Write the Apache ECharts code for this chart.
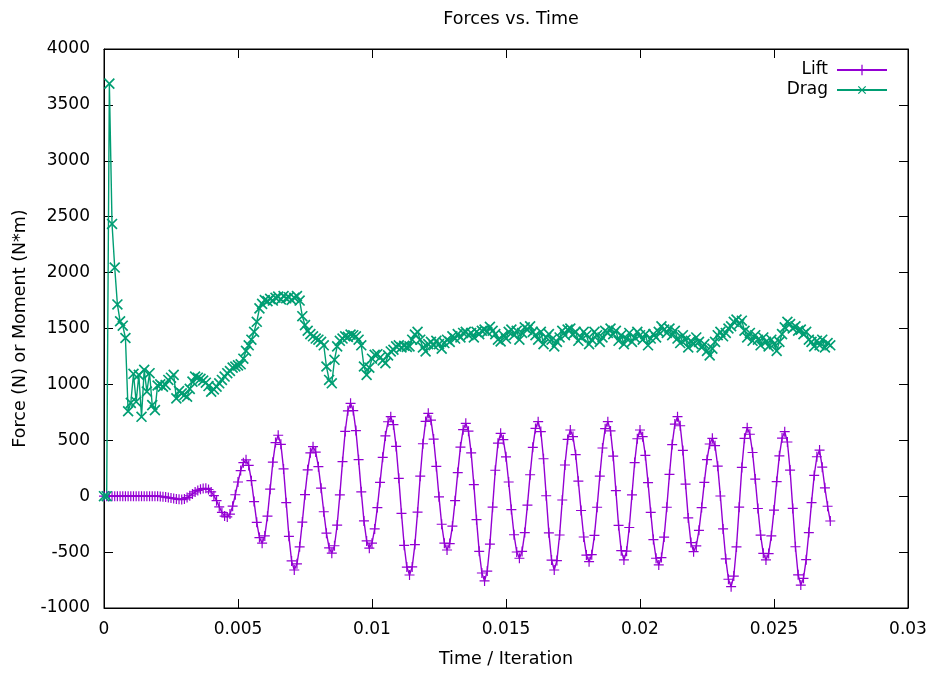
<!DOCTYPE html>
<html>
<head>
<meta charset="utf-8">
<script src="https://cdn.jsdelivr.net/npm/echarts@6/dist/echarts.min.js"></script>
<style>
  html, body { margin: 0; padding: 0; background: #fff; }
  #chart { width: 936px; height: 673px; }
</style>
</head>
<body>
<div id="chart"></div>
<script>
// sample spacing along the time axis
var step = 0.0001;

var lift = [
  0, 0, 0, 0, 0, 0, 0, 0, 0, 0,
  0, 0, 0, 0, 0, 0, 0, 0, 0, 0,
  0, -2, -5, -8, -12, -16, -20, -25, -28, -30,
  -24, -12, 4, 20, 38, 52, 62, 68, 70, 60,
  38, 5, -40, -95, -145, -178, -185, -160, -89, 13,
  127, 229, 300, 325, 275, 139, -48, -234, -370, -420,
  -355, -179, 63, 304, 480, 545, 464, 244, -58, -359,
  -579, -660, -605, -453, -231, 14, 236, 388, 443, 395,
  264, 72, -139, -331, -462, -510, -443, -258, 12, 309,
  579, 764, 831, 766, 587, 327, 39, -221, -400, -465,
  -420, -293, -102, 123, 348, 539, 666, 711, 640, 445,
  160, -154, -439, -634, -705, -633, -433, -143, 179, 469,
  669, 741, 680, 511, 266, -6, -251, -420, -481, -424,
  -268, -40, 211, 439, 595, 652, 582, 387, 104, -210,
  -493, -687, -758, -670, -428, -98, 232, 474, 562, 506,
  352, 127, -120, -345, -499, -555, -494, -325, -80, 192,
  437, 606, 667, 578, 335, 4, -328, -571, -660, -576,
  -347, -34, 279, 508, 592, 533, 371, 134, -128, -365,
  -527, -586, -523, -350, -99, 180, 431, 604, 667, 584,
  358, 49, -261, -487, -570, -492, -280, 11, 301, 514,
  592, 532, 365, 122, -145, -388, -555, -615, -549, -366,
  -99, 195, 462, 645, 711, 630, 409, 108, -194, -415,
  -496, -445, -305, -102, 124, 327, 467, 518, 452, 269,
  2, -293, -560, -743, -809, -714, -454, -98, 257, 518,
  613, 554, 391, 153, -110, -348, -511, -570, -513, -354,
  -124, 131, 361, 520, 577, 485, 234, -109, -452, -703,
  -795, -735, -568, -325, -57, 186, 353, 413, 260, 75,
  -90, -222
];

var drag = [
  0, 0, 3690, 2435, 2045, 1715, 1565, 1525, 1415, 760,
  835, 1095, 845, 1085, 710, 1130, 935, 1100, 815, 770,
  990, 1000, 980, 995, 1040, 1060, 1085, 875, 940, 920,
  905, 890, 960, 1025, 1070, 1060, 1050, 1035, 1015, 985,
  935, 955, 980, 1010, 1040, 1070, 1100, 1120, 1150, 1160,
  1170, 1180, 1230, 1300, 1350, 1400, 1470, 1560, 1680, 1720,
  1755, 1745, 1765, 1750, 1775, 1785, 1760, 1790, 1770, 1780,
  1755, 1775, 1790, 1750, 1610, 1530, 1480, 1450, 1430, 1410,
  1400, 1380, 1350, 1160, 1040, 1010, 1220, 1340, 1390, 1410,
  1430, 1425, 1445, 1440, 1430, 1400, 1350, 1160, 1085, 1150,
  1230, 1265, 1270, 1240, 1215, 1190, 1260, 1295, 1310, 1340,
  1350, 1330, 1345, 1335, 1340, 1400, 1445, 1470, 1400, 1330,
  1295, 1360, 1380, 1350, 1390, 1360, 1320, 1370, 1400, 1380,
  1430, 1410, 1450, 1420, 1460, 1470, 1440, 1460, 1420, 1470,
  1450, 1480, 1490, 1470, 1515, 1480, 1450, 1400, 1385, 1440,
  1410, 1470, 1490, 1440, 1480, 1400, 1460, 1510, 1490, 1520,
  1470, 1440, 1400, 1470, 1360, 1420, 1450, 1400, 1340, 1380,
  1420, 1480, 1440, 1490, 1500, 1450, 1470, 1390, 1420, 1470,
  1440, 1360, 1400, 1470, 1440, 1380, 1420, 1480, 1460, 1500,
  1450, 1480, 1390, 1440, 1360, 1410, 1460, 1380, 1420, 1470,
  1440, 1400, 1450, 1350, 1410, 1450, 1420, 1470, 1520, 1490,
  1460, 1500, 1440, 1480, 1410, 1370, 1440, 1400, 1330, 1390,
  1360, 1420, 1380, 1330, 1360, 1300, 1260, 1320, 1380, 1440,
  1470, 1430, 1460, 1500, 1520, 1560, 1580, 1540, 1570, 1480,
  1420, 1460, 1390, 1440, 1400, 1350, 1420, 1380, 1340, 1400,
  1360, 1300, 1380, 1450, 1510, 1560, 1540, 1500, 1520, 1480,
  1490, 1450, 1470, 1400, 1380, 1340, 1390, 1350, 1400, 1330,
  1370, 1350
];

var xTicks = [0, 0.03, 0.005];     // min, max, interval
var yTicks = [-1000, 4000, 500];

var plusIcon = 'path://M0,4.4H10V5.6H0Z M4.4,0H5.6V10H4.4Z';

function pairs(arr) {
    return arr.map(function (v, i) { return [+(i * step).toFixed(4), v]; });
}

var font = 'DejaVu Sans';
var fs = 17;

var chart = echarts.init(document.getElementById('chart'));

function ticks() {
    return { show: true, inside: true, length: 9, lineStyle: { color: '#000', width: 1 } };
}
function line() {
    return { show: true, onZero: false, lineStyle: { color: '#000', width: 1 } };
}

var option = {
    animation: false,
    backgroundColor: '#fff',
    textStyle: { fontFamily: font },
    title: {
        text: 'Forces vs. Time',
        left: 506,
        textAlign: 'center',
        top: 5,
        textStyle: { fontFamily: font, fontSize: 17.5, fontWeight: 'normal', color: '#000' }
    },
    grid: {
        left: 104, right: 28, top: 49, bottom: 65,
        show: true, borderColor: '#000', borderWidth: 1,
        containLabel: false
    },
    legend: {
        right: 43, top: 56, orient: 'vertical', align: 'right',
        itemWidth: 50, itemHeight: 13, itemGap: 2,
        textStyle: { fontFamily: font, fontSize: fs, color: '#000', lineHeight: 18, padding: [0, 4, 0, 0] },
        data: ['Lift', 'Drag']
    },
    xAxis: [{
        type: 'value',
        min: xTicks[0], max: xTicks[1], interval: xTicks[2],
        name: 'Time / Iteration', nameLocation: 'middle', nameGap: 42,
        nameTextStyle: { fontFamily: font, fontSize: 17.5, color: '#000' },
        axisLine: line(),
        axisTick: ticks(),
        axisLabel: { color: '#000', fontSize: fs, fontFamily: font, margin: 13 },
        splitLine: { show: false }
    }, {
        type: 'value', position: 'top',
        min: xTicks[0], max: xTicks[1], interval: xTicks[2],
        axisLine: line(),
        axisTick: ticks(),
        axisLabel: { show: false },
        splitLine: { show: false }
    }],
    yAxis: [{
        type: 'value',
        min: yTicks[0], max: yTicks[1], interval: yTicks[2],
        name: 'Force (N) or Moment (N*m)', nameLocation: 'middle', nameGap: 75,
        nameTextStyle: { fontFamily: font, fontSize: 17.5, color: '#000' },
        axisLine: line(),
        axisTick: ticks(),
        axisLabel: {
            color: '#000', fontSize: fs, fontFamily: font, margin: 14,
            formatter: function (v) { return String(v); }
        },
        splitLine: { show: false }
    }, {
        type: 'value', position: 'right',
        min: yTicks[0], max: yTicks[1], interval: yTicks[2],
        axisLine: line(),
        axisTick: ticks(),
        axisLabel: { show: false },
        splitLine: { show: false }
    }],
    series: [{
        name: 'Lift',
        type: 'line',
        data: pairs(lift),
        color: '#9400d3',
        symbol: plusIcon,
        symbolSize: 10,
        showAllSymbol: true,
        lineStyle: { width: 1.4 },
        itemStyle: { color: '#9400d3' }
    }, {
        name: 'Drag',
        type: 'line',
        data: pairs(drag),
        color: '#009e73',
        symbol: plusIcon,
        symbolSize: 14,
        symbolRotate: 45,
        showAllSymbol: true,
        lineStyle: { width: 1.4 },
        itemStyle: { color: '#009e73' }
    }]
};

chart.setOption(option);
</script>
</body>
</html>
